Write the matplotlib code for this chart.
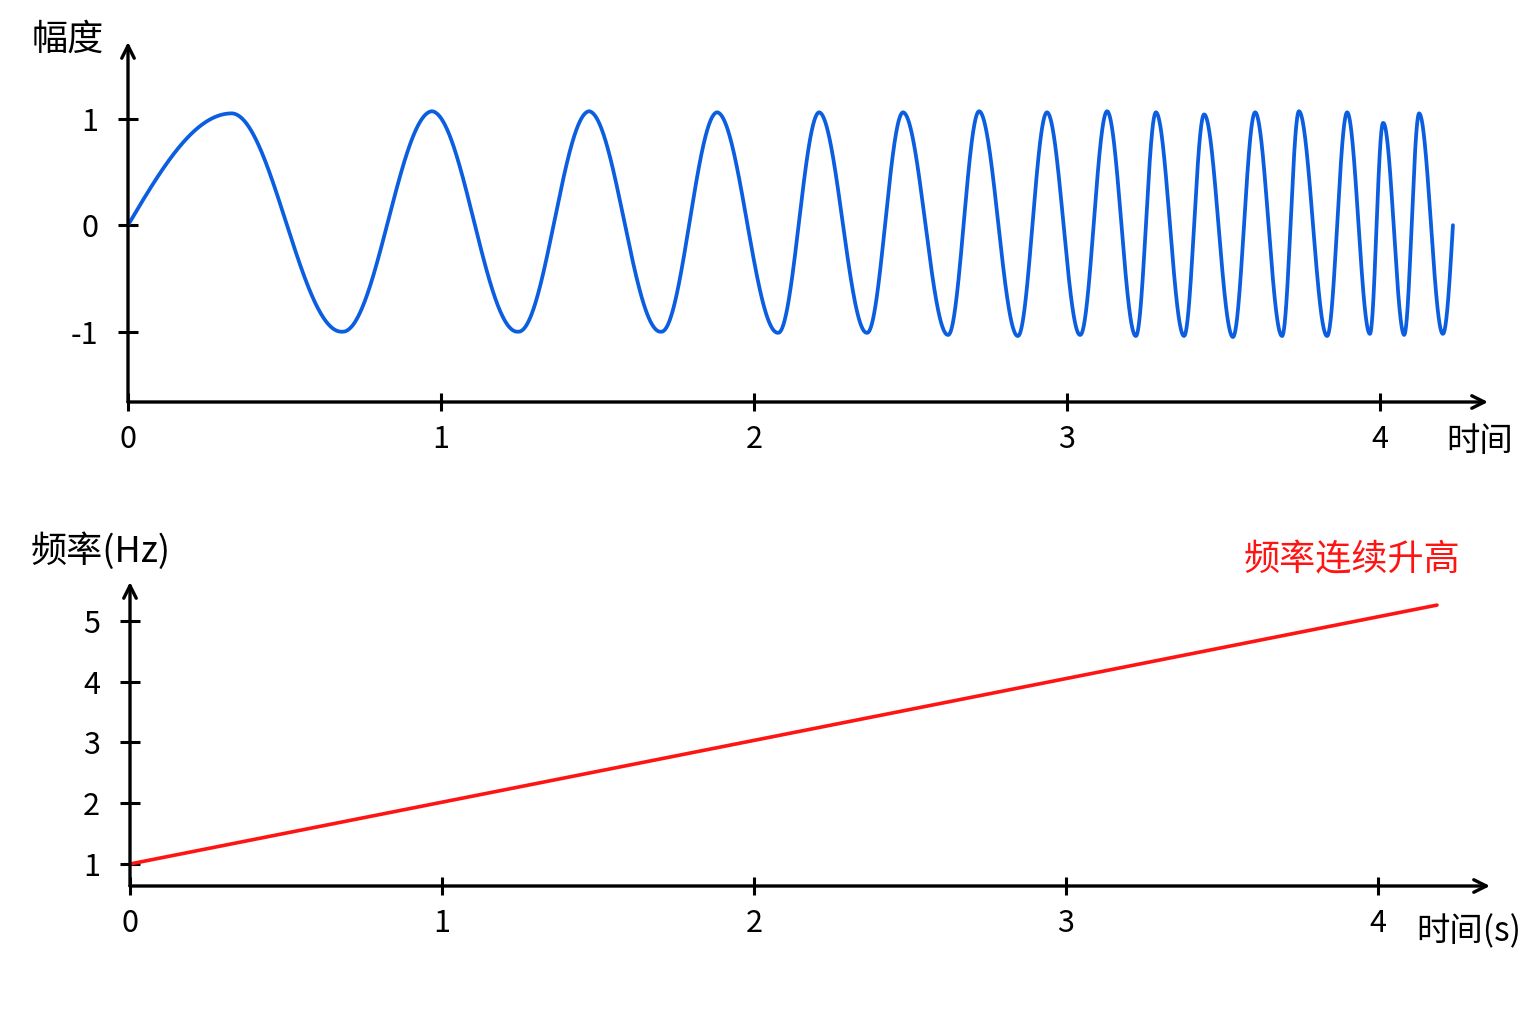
import numpy as np
import matplotlib
matplotlib.use("Agg")
import matplotlib.pyplot as plt

plt.rcParams['font.family'] = ['Noto Sans CJK SC', 'DejaVu Sans']
plt.rcParams['axes.unicode_minus'] = False

# ---- data ----
x_ticks = [0, 1, 2, 3, 4]
amp_ticks = [-1, 0, 1]
amp_tick_labels = ["-1", "0", "1"]
freq_ticks = [1, 2, 3, 4, 5]

# chirp signal: times (s) of the successive drawn peaks / troughs and their values
extreme_times = [0.332, 0.684, 0.971, 1.246, 1.473, 1.703, 1.882, 2.077,
                 2.208, 2.361, 2.476, 2.620, 2.719, 2.843, 2.936, 3.042,
                 3.128, 3.220, 3.284, 3.374, 3.438, 3.530, 3.601, 3.687,
                 3.741, 3.831, 3.895, 3.968, 4.010, 4.077, 4.125, 4.201]
extreme_values = [1.05, -1.00, 1.07, -1.00, 1.07, -1.00, 1.06, -1.01,
                  1.06, -1.01, 1.06, -1.03, 1.07, -1.04, 1.06, -1.03,
                  1.07, -1.04, 1.06, -1.04, 1.04, -1.05, 1.06, -1.04,
                  1.07, -1.04, 1.06, -1.02, 0.96, -1.03, 1.05, -1.02]
signal_t_start = 0.0
signal_t_end = 4.233

# frequency line (Hz) vs time (s)
freq_time = [0.0, 4.19]
freq_hz = [1.0, 5.26]

BLUE = "#0b5ee0"
RED = "#ff1414"

fig = plt.figure(figsize=(15.36, 10.24), dpi=100)
W, H = 1536, 1024

def fx(px):
    return px / W

def fy(py):
    return 1 - py / H

def style_axes(ax):
    for s in ax.spines.values():
        s.set_visible(False)
    for xy in [(1, 0), (0, 1)]:
        ax.annotate("", xy=xy, xytext=(0, 0), xycoords="axes fraction",
                    arrowprops=dict(arrowstyle="->,head_length=0.9,head_width=0.45",
                                    lw=2.4, color="black", shrinkA=0, shrinkB=0),
                    annotation_clip=False)
    ax.tick_params(axis="both", direction="inout", width=2.2, labelsize=22,
                   color="black")
    ax.tick_params(axis="x", length=13, pad=9)
    ax.tick_params(axis="y", length=15, pad=14)
    ax.set_facecolor("none")

# ---- top: amplitude ----
ax1 = fig.add_axes([fx(128), fy(402), fx(1488) - fx(128), fy(42) - fy(402)])
knot_t = np.concatenate([[signal_t_start], extreme_times, [signal_t_end]])
knot_phase = 0.25 + 0.5 * np.arange(len(extreme_times))
knot_phase = np.concatenate([[0.0], knot_phase, [knot_phase[-1] + 0.25]])
knot_amp = np.abs(np.concatenate([[extreme_values[0]], extreme_values,
                                  [extreme_values[-1]]]))
t = np.linspace(signal_t_start, signal_t_end, 6000)
phase = np.interp(t, knot_t, knot_phase)
amp = np.interp(t, knot_t, knot_amp)
ax1.plot(t, amp * np.sin(2 * np.pi * phase), color=BLUE, lw=2.7,
         solid_capstyle="round")
ax1.set_xlim(0, 4.345)
ax1.set_ylim(-1.66, 1.72)
ax1.set_xticks(x_ticks)
ax1.set_xticklabels([str(v) for v in x_ticks])
ax1.set_yticks(amp_ticks)
ax1.set_yticklabels(amp_tick_labels)
style_axes(ax1)

fig.text(fx(68), fy(40), "幅度", fontsize=26, ha="center", va="center")
fig.text(fx(1480), fy(442), "时间", fontsize=24, ha="center", va="center")

# ---- bottom: frequency ----
ax2 = fig.add_axes([fx(130), fy(886), fx(1490) - fx(130), fy(582) - fy(886)])
ax2.plot(freq_time, freq_hz, color=RED, lw=2.6, solid_capstyle="round")
ax2.set_xlim(0, 4.36)
ax2.set_ylim(0.638, 5.64)
ax2.set_xticks(x_ticks)
ax2.set_xticklabels([str(v) for v in x_ticks])
ax2.set_yticks(freq_ticks)
ax2.set_yticklabels([str(v) for v in freq_ticks])
style_axes(ax2)

fig.text(fx(101), fy(551), "频率(Hz)", fontsize=26, ha="center", va="center")
fig.text(fx(1469), fy(932), "时间(s)", fontsize=24, ha="center", va="center")
fig.text(fx(1352), fy(560), "频率连续升高", fontsize=26, color=RED,
         ha="center", va="center")

fig.savefig("out.png", dpi=100, facecolor="white")
